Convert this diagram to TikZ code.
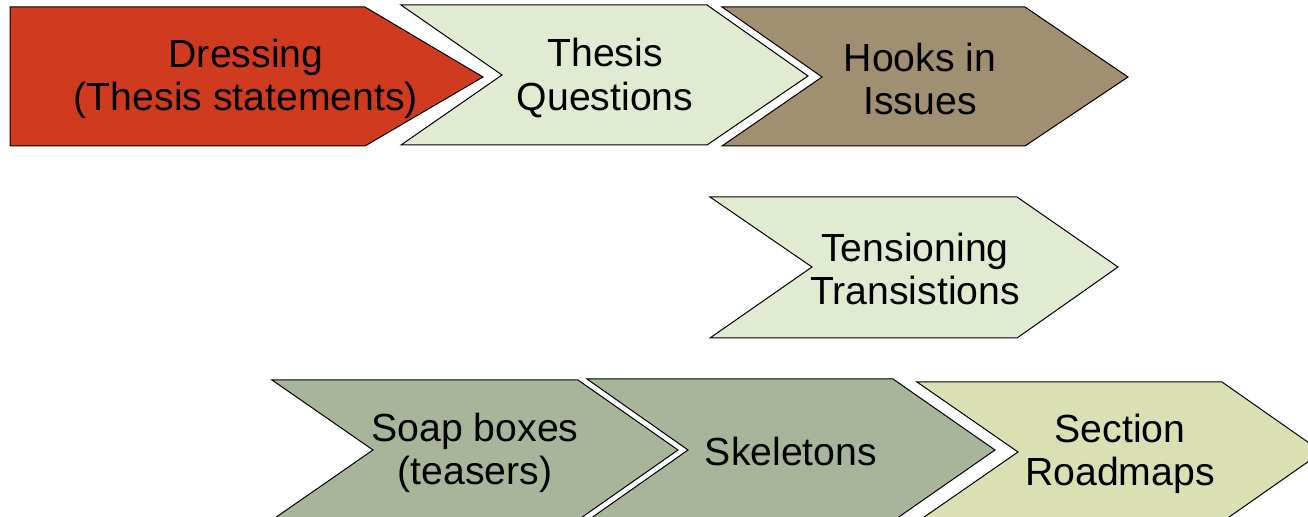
\documentclass[tikz,border=0pt]{standalone}
\usepackage{fontspec}
\setmainfont{Liberation Sans}
\usepackage{tikz}

\definecolor{dressred}{HTML}{D03A1E}
\definecolor{palegreen}{HTML}{E0EBD2}
\definecolor{hookbrown}{HTML}{A08F70}
\definecolor{sagegreen}{HTML}{A8B59B}
\definecolor{paleolive}{HTML}{DAE0B4}

\tikzset{
  chev/.style={draw=black, line width=0.5pt, line join=miter},
  chevtext/.style={align=center, inner sep=0pt,
    font=\fontsize{19.6}{21.8}\selectfont}
}

\begin{document}
\begin{tikzpicture}[x=0.5pt, y=-0.5pt]
  \useasboundingbox (0,0) rectangle (1308,517);
  \clip (0,0) rectangle (1308,517);

  % top row
  \filldraw [chev, fill=dressred] (10,7) -- (365,7) -- (483,77) -- (365,146) -- (10,146) -- cycle;
  \node [chevtext] (dressing) at (246,79) {Dressing\\(Thesis statements)};

  \filldraw [chev, fill=palegreen] (401,5) -- (707,5) -- (808,76) -- (707,145) -- (401,145) -- (502,75) -- cycle;
  \node [chevtext] (questions) at (605,78) {Thesis\\Questions};

  \filldraw [chev, fill=hookbrown] (722,7) -- (1025,7) -- (1128,77) -- (1025,146) -- (722,146) -- (822,77) -- cycle;
  \node [chevtext] (hooks) at (920,79) {Hooks in\\Issues};

  % middle
  \filldraw [chev, fill=palegreen] (710,197) -- (1017,197) -- (1118,267) -- (1017,338) -- (710,338) -- (812,267) -- cycle;
  \node [chevtext] (tensioning) at (915,269) {Tensioning\\Transistions};

  % bottom row
  \filldraw [chev, fill=sagegreen] (272,380) -- (578,380) -- (678,450) -- (578,520) -- (272,520) -- (373,450) -- cycle;
  \node [chevtext] (soap) at (475,453) {Soap boxes\\(teasers)};

  \filldraw [chev, fill=sagegreen] (587,379) -- (893,379) -- (995,450) -- (893,521) -- (587,521) -- (688,450) -- cycle;
  \node [chevtext] (skeletons) at (791,451) {Skeletons};

  \filldraw [chev, fill=paleolive] (917,382) -- (1222,382) -- (1322,452) -- (1222,522) -- (917,522) -- (1018,452) -- cycle;
  \node [chevtext] (roadmaps) at (1120,454) {Section\\Roadmaps};
\end{tikzpicture}
\end{document}
